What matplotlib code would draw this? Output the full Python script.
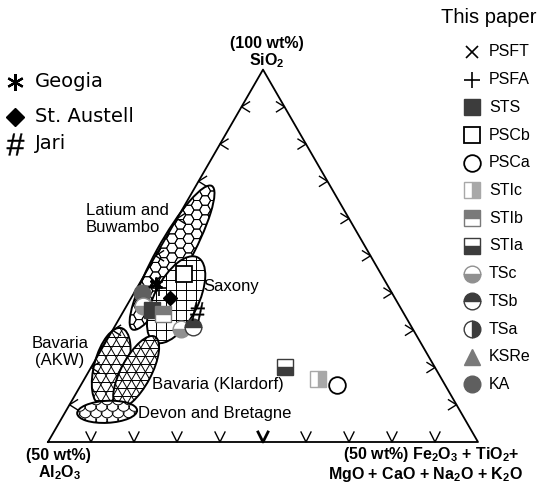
import numpy as np
import matplotlib.pyplot as plt
from matplotlib.patches import Ellipse
from matplotlib.collections import LineCollection

plt.rcParams['font.family'] = ['Liberation Sans', 'DejaVu Sans']
plt.rcParams['mathtext.fontset'] = 'custom'
plt.rcParams['mathtext.rm'] = 'Liberation Sans'
plt.rcParams['mathtext.bf'] = 'Liberation Sans:bold'

# %% data: ternary fractions (top apex = SiO2, right apex = Fe2O3+TiO2+...)
ref_names = ['Geogia', 'St. Austell', 'Jari']
ref_top = [0.425, 0.387, 0.352]
ref_right = [0.039, 0.090, 0.170]

sample_names = ['PSFT', 'PSFA', 'STS', 'PSCb', 'PSCa', 'STIc', 'STIb', 'STIa',
                'TSc', 'TSb', 'TSa', 'KSRe', 'KA']
sample_top = [[0.430], [0.414], [0.355], [0.452], [0.153], [0.169], [0.344],
              [0.202], [0.366, 0.304], [0.309], [], [0.382], [0.401]]
sample_right = [[0.034], [0.051], [0.064], [0.090], [0.596], [0.543], [0.095],
                [0.450], [0.038, 0.157], [0.183], [], [0.037], [0.018]]

region_names = ['Latium and\nBuwambo', 'Saxony', 'Bavaria\n(AKW)',
                'Bavaria (Klardorf)', 'Devon and Bretagne']
region_top = [0.495, 0.382, 0.202, 0.188, 0.081]
region_right = [0.041, 0.107, 0.046, 0.111, 0.097]


def tern(t, r):
    t = np.asarray(t, float)
    r = np.asarray(r, float)
    return r + t / 2, t * np.sqrt(3) / 2


def P(px, py):
    # figure pixel -> axes data units (430 px per unit)
    return (px - 48) / 430, (442 - py) / 430


fig = plt.figure(figsize=(5.4, 4.86), dpi=100)
ax = fig.add_axes([0, 0, 1, 1])
ax.set_xlim(-48 / 430, 492 / 430)
ax.set_ylim(-44 / 430, 442 / 430)
ax.axis('off')

# triangle
h = np.sqrt(3) / 2
ax.plot([0, 1, 0.5, 0], [0, 0, h, 0], color='black', lw=1.3, zorder=5)

# ticks
u = 1 / 430
for k in range(1, 10):
    x = k / 10
    ax.plot([x - 5 * u, x, x + 5 * u], [10 * u, 0, 10 * u], color='black',
            lw=2.0 if k == 5 else 1.0, zorder=5)
    xl, yl = 0.5 * k / 10, h * k / 10
    ax.plot([xl + 8 * u, xl, xl + 8 * u], [yl + 5 * u, yl, yl - 5 * u],
            color='black', lw=1.0, zorder=5)
    xr, yr = 1 - 0.5 * k / 10, h * k / 10
    ax.plot([xr - 8 * u, xr, xr - 8 * u], [yr + 5 * u, yr, yr - 5 * u],
            color='black', lw=1.0, zorder=5)


# %% hatch helpers
def family(cx, cy, R, theta, step, offset=0.0):
    d = np.array([np.cos(theta), np.sin(theta)])
    n = np.array([-d[1], d[0]])
    segs = []
    N = int(R / step) + 2
    for k in range(-N, N + 1):
        p = np.array([cx, cy]) + (k * step + offset) * n
        segs.append([p - R * d, p + R * d])
    return segs


def hexes(cx, cy, R, r):
    segs = []
    ang = np.radians(np.arange(0, 361, 60))
    N = int(R / r) + 2
    for i in range(-N, N + 1):
        for j in range(-N, N + 1):
            hx = cx + i * 1.5 * r
            hy = cy + j * np.sqrt(3) * r + (i % 2) * np.sqrt(3) / 2 * r
            segs.append(np.column_stack([hx + r * np.cos(ang), hy + r * np.sin(ang)]))
    return segs


def scales(cx, cy, R, r):
    segs = []
    ang = np.linspace(0, np.pi, 25)
    N = int(R / r) + 2
    for j in range(-N, N + 1):
        for i in range(-N, N + 1):
            sx = cx + i * 11 * u + (j % 2) * 5.5 * u
            sy = cy + j * 6.5 * u
            segs.append(np.column_stack([sx + r * np.cos(ang), sy - r * np.sin(ang)]))
    return segs


def region(cx, cy, w, hgt, angle, kind, z):
    back = Ellipse((cx, cy), w, hgt, angle=angle, facecolor='white',
                   edgecolor='none', zorder=z)
    ax.add_patch(back)
    R = w / 2 + 0.02
    if kind == 'hex':
        segs = hexes(cx, cy, R, 5.5 * u)
    elif kind == 'grid':
        segs = family(cx, cy, R, 0, 10 * u) + family(cx, cy, R, np.pi / 2, 10 * u)
    elif kind == 'star':
        segs = (family(cx, cy, R, 0, 9 * u, 3 * u) + family(cx, cy, R, np.pi / 3, 9 * u)
                + family(cx, cy, R, 2 * np.pi / 3, 9 * u))
    elif kind == 'tri':
        segs = (family(cx, cy, R, 0, 8 * u) + family(cx, cy, R, np.pi / 3, 8 * u)
                + family(cx, cy, R, 2 * np.pi / 3, 8 * u))
    else:
        segs = scales(cx, cy, R, 6 * u)
    lc = LineCollection(segs, colors='black', linewidths=0.7, zorder=z + 0.1)
    ax.add_collection(lc)
    lc.set_clip_path(back)
    ax.add_patch(Ellipse((cx, cy), w, hgt, angle=angle, fill=False,
                         edgecolor='black', lw=1.4, zorder=z + 0.2))


rx, ry = tern(region_top, region_right)
region_size = [(164, 34, 61), (95, 44, 63), (80, 34, 75), (80, 30, 62), (60, 22, 3)]
region_kind = ['hex', 'grid', 'star', 'tri', 'scale']
for i in [0, 1, 2, 3, 4]:
    w, hg, a = region_size[i]
    region(rx[i], ry[i], w * u, hg * u, a, region_kind[i], 1 + i)

# region labels
label_pos = [(86, 219, 'left'), (203, 287, 'left'), (60, 352, 'center'),
             (152, 385, 'left'), (138, 413, 'left')]
for name, (px, py, ha) in zip(region_names, label_pos):
    ax.text(*P(px, py), name, fontsize=12, ha=ha, va='center', zorder=20,
            linespacing=1.15)

# %% marker styles
dark, mid, light = '#3c3c3c', '#7a7a7a', '#a8a8a8'
styles = {
    'PSFT': dict(marker='x', ms=9, mew=1.2, color='black'),
    'PSFA': dict(marker='+', ms=11, mew=1.2, color='black'),
    'STS': dict(marker='s', ms=11, color=dark, mec=dark),
    'PSCb': dict(marker='s', ms=12, mfc='white', mec='black', mew=1.3),
    'PSCa': dict(marker='o', ms=12, mfc='white', mec='black', mew=1.3),
    'STIc': dict(marker='s', ms=12, fillstyle='right', mfc=light, mfcalt='white', mec=light),
    'STIb': dict(marker='s', ms=12, fillstyle='top', mfc=mid, mfcalt='white', mec=mid),
    'STIa': dict(marker='s', ms=12, fillstyle='bottom', mfc=dark, mfcalt='white', mec=dark),
    'TSc': dict(marker='o', ms=12, fillstyle='bottom', mfc='#909090', mfcalt='white', mec='#909090'),
    'TSb': dict(marker='o', ms=12, fillstyle='top', mfc=dark, mfcalt='white', mec=dark),
    'TSa': dict(marker='o', ms=12, fillstyle='right', mfc=dark, mfcalt='white', mec=dark),
    'KSRe': dict(marker='^', ms=12, color=mid, mec=mid),
    'KA': dict(marker='o', ms=12, color='#5f5f5f', mec='#5f5f5f'),
}
ref_styles = {
    'Geogia': dict(marker=(6, 2, 0), ms=10, mew=1.6, color='black'),
    'St. Austell': dict(marker='D', ms=7.5, color='black'),
    'Jari': dict(marker=r'$\#$', ms=13, color='black', mew=0.3),
}

draw_order = ['KSRe', 'KA', 'TSc', 'STS', 'STIb', 'TSb', 'PSCb', 'STIa', 'STIc',
              'PSCa', 'PSFA', 'PSFT']
for name in draw_order:
    i = sample_names.index(name)
    if not sample_top[i]:
        continue
    x, y = tern(sample_top[i], sample_right[i])
    ax.plot(x, y, ls='none', zorder=10, **styles[name])

xs, ys = tern(ref_top, ref_right)
for i, name in enumerate(ref_names):
    ax.plot(xs[i], ys[i], ls='none', zorder=11, **ref_styles[name])

# %% legends
for name, py in zip(ref_names, [82, 117, 144]):
    ax.plot(*P(15, py), ls='none', zorder=12, **{**ref_styles[name],
            'ms': ref_styles[name]['ms'] * 1.2})
    ax.text(*P(35, py), name, fontsize=14, va='center', family='DejaVu Sans')

ax.text(*P(441, 18), 'This paper', fontsize=14.5, va='center', clip_on=False)
for j, name in enumerate(sample_names):
    py = 52 + j * 27.7
    ax.plot(*P(472, py), ls='none', zorder=12, **styles[name])
    ax.text(*P(489, py), name, fontsize=11.5, va='center')

# %% apex labels
bold = dict(fontsize=11.5, fontweight='bold', ha='center', va='center')
ax.text(*P(267, 44), '(100 wt%)', **bold)
ax.text(*P(267, 61), r'SiO$_\mathbf{2}$', **bold)
ax.text(*P(58, 455), '(50 wt%)', **bold)
ax.text(*P(60, 473), r'Al$_\mathbf{2}$O$_\mathbf{3}$', **bold)
ax.text(*P(519, 454), r'(50 wt%) Fe$_\mathbf{2}$O$_\mathbf{3}$ + TiO$_\mathbf{2}$+',
        **{**bold, 'ha': 'right'})
ax.text(*P(523, 474), r'MgO + CaO + Na$_\mathbf{2}$O + K$_\mathbf{2}$O',
        **{**bold, 'ha': 'right'})

plt.savefig('out.png', dpi=100)
